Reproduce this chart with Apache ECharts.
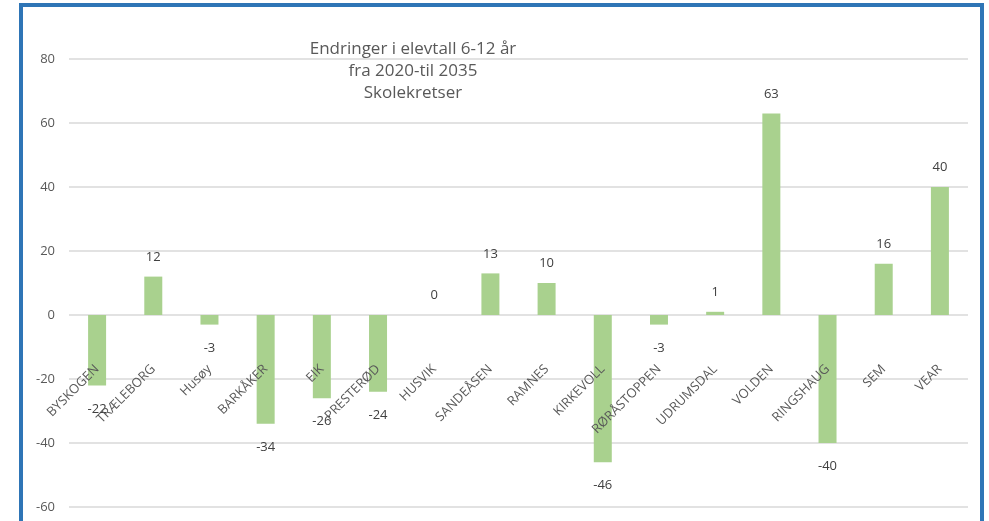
<!DOCTYPE html>
<html>
<head>
<meta charset="utf-8">
<script src="https://cdn.jsdelivr.net/npm/echarts@6/dist/echarts.min.js"></script>
<style>
  html, body { margin: 0; padding: 0; background: #fff; }
  #chart { width: 989px; height: 521px; }
</style>
</head>
<body>
<div id="chart"></div>
<script>
// skolekretser og endring i elevtall
const kretser = ["BYSKOGEN", "TRÆLEBORG", "Husøy", "BARKÅKER", "EIK", "PRESTERØD", "HUSVIK", "SANDEÅSEN",
  "RAMNES", "KIRKEVOLL", "RØRÅSTOPPEN", "UDRUMSDAL", "VOLDEN", "RINGSHAUG", "SEM", "VEAR"];
const endring = [-22, 12, -3, -34, -26, -24, 0, 13, 10, -46, -3, 1, 63, -40, 16, 40];
const yTicks = [-60, -40, -20, 0, 20, 40, 60, 80];
const titleLines = ["Endringer i elevtall 6-12 år", "fra 2020-til 2035", "Skolekretser"];

const grey = "#595959";
const font = "'Open Sans', 'Noto Sans', sans-serif";

const gridTop = 59;
const gridBottom = 14;
const plotH = 521 - gridTop - gridBottom;
const yMin = yTicks[0];
const yMax = yTicks[yTicks.length - 1];
// kategori-aksen skal sitte paa 0-linja
const zeroOffset = -plotH * (0 - yMin) / (yMax - yMin);

const chart = echarts.init(document.getElementById("chart"));

const barData = endring.map((v) => ({
  value: v,
  label: v < 0
    ? { position: "bottom", distance: 17 }
    : { position: "top", distance: 13 },
}));

chart.setOption({
  backgroundColor: "#fff",
  animation: false,
  title: {
    text: titleLines.join("\n"),
    left: 408,
    top: 33,
    textAlign: "center",
    textStyle: {
      color: grey,
      fontSize: 17,
      fontWeight: "normal",
      fontFamily: font,
      lineHeight: 22,
    },
  },
  grid: {
    left: 69,
    right: 21,
    top: gridTop,
    bottom: gridBottom,
    containLabel: false,
    outerBoundsMode: "none",
  },
  xAxis: {
    type: "category",
    data: kretser,
    offset: zeroOffset,
    z: 5,
    axisTick: { show: false },
    axisLine: { show: false, onZero: false },
    axisLabel: {
      interval: 0,
      rotate: 45,
      margin: 52,
      color: grey,
      fontSize: 13,
      fontFamily: font,
    },
  },
  yAxis: {
    type: "value",
    min: yMin,
    max: yMax,
    interval: 20,
    axisLine: { show: false },
    axisTick: { show: false },
    splitLine: { lineStyle: { color: "#d9d9d9", width: 1.5 } },
    axisLabel: {
      margin: 14,
      color: grey,
      fontSize: 13,
      fontFamily: font,
    },
  },
  series: [
    {
      type: "bar",
      data: barData,
      barWidth: 18,
      itemStyle: { color: "#a9d18e" },
      label: {
        show: true,
        color: "#404040",
        fontSize: 13,
        fontFamily: font,
      },
    },
  ],
  graphic: [
    {
      type: "rect",
      silent: true,
      shape: { x: 21, y: 5, width: 961, height: 540 },
      style: { fill: null, stroke: "#2e75b6", lineWidth: 4 },
    },
  ],
});

window.addEventListener("resize", () => chart.resize());
</script>
</body>
</html>
